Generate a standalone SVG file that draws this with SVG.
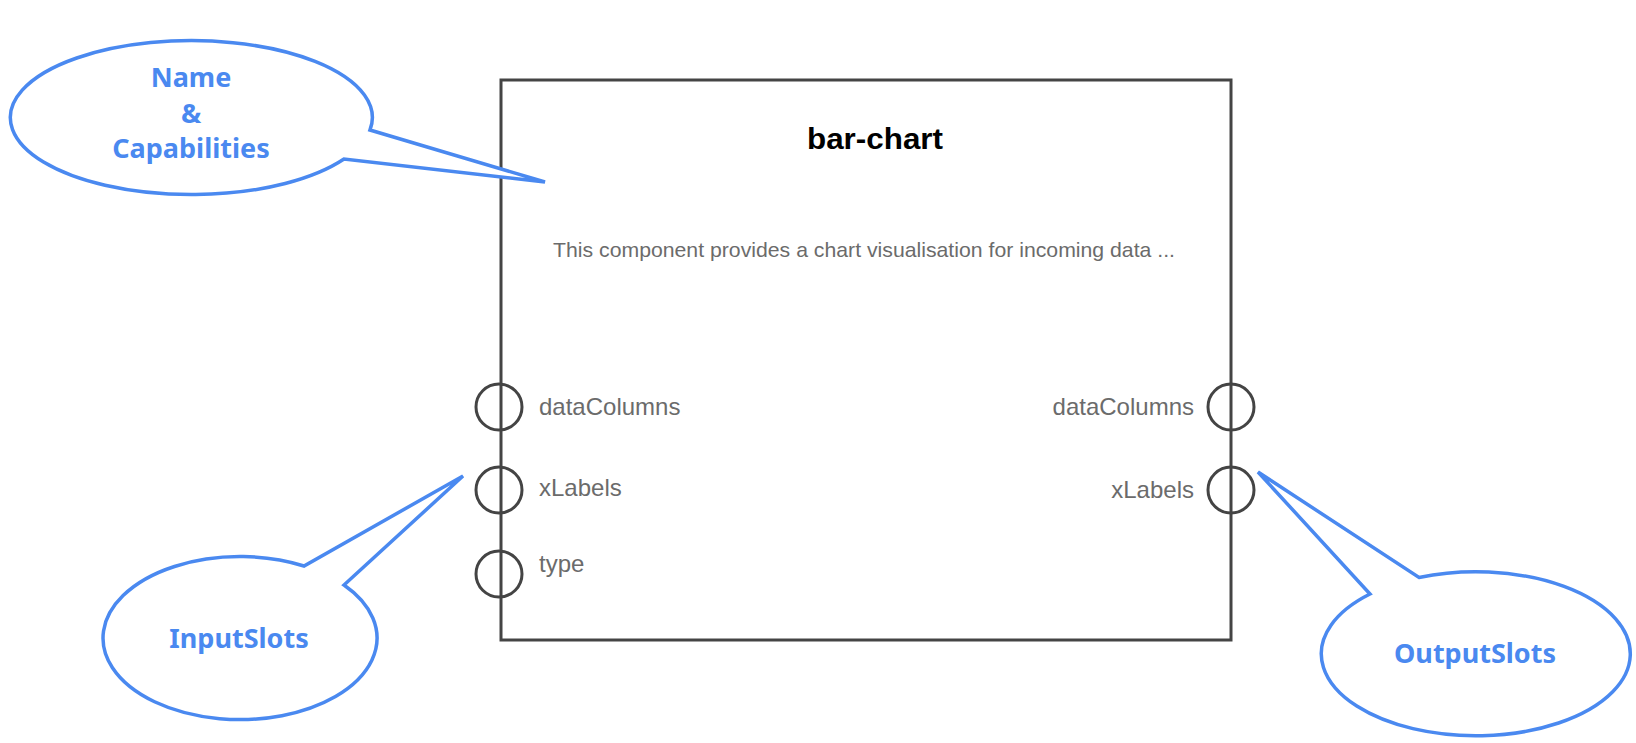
<svg xmlns="http://www.w3.org/2000/svg" width="1636" height="743" viewBox="0 0 1636 743">
<style>
.box{fill:#fff;stroke:#444;stroke-width:3}
.slot{fill:none;stroke:#444;stroke-width:3}
.lbl{font-family:"Liberation Sans",Arial,sans-serif;font-size:24px;fill:#6b6b6b}
.title{font-family:"Liberation Sans",Arial,sans-serif;font-size:30px;font-weight:bold;fill:#000}
.desc{font-family:"Liberation Sans",Arial,sans-serif;font-size:21px;fill:#6b6b6b}
.bubble{fill:#fff;stroke:#4a89f0;stroke-width:3.5;stroke-linejoin:miter}
.btxt{font-family:"Comic Sans MS","Noto Sans",sans-serif;font-size:27px;font-weight:bold;fill:#4a89f0;text-anchor:middle}
</style>
<g id="component">
<rect class="box" x="501" y="80" width="730" height="560"/>
<text class="title" x="875" y="149" text-anchor="middle" textLength="136" lengthAdjust="spacingAndGlyphs">bar-chart</text>
<text class="desc" x="553" y="257" textLength="622" lengthAdjust="spacingAndGlyphs">This component provides a chart visualisation for incoming data ...</text>
</g>
<g id="input-slots">
<circle class="slot" cx="499" cy="407" r="23"/>
<circle class="slot" cx="499" cy="490" r="23"/>
<circle class="slot" cx="499" cy="574" r="23"/>
<text class="lbl" x="539" y="415">dataColumns</text>
<text class="lbl" x="539" y="496">xLabels</text>
<text class="lbl" x="539" y="572">type</text>
</g>
<g id="output-slots">
<circle class="slot" cx="1231" cy="407" r="23"/>
<circle class="slot" cx="1231" cy="490" r="23"/>
<text class="lbl" x="1194" y="415" text-anchor="end">dataColumns</text>
<text class="lbl" x="1194" y="498" text-anchor="end">xLabels</text>
</g>
<g id="callouts">
<g id="callout-name">
<path class="bubble" d="M 370 130 A 181 77 0 1 0 344 159 L 545 182 Z"/>
<text class="btxt" x="191" y="87">Name</text>
<text class="btxt" x="191" y="123">&amp;</text>
<text class="btxt" x="191" y="158">Capabilities</text>
</g>
<g id="callout-input">
<path class="bubble" d="M 304 566 A 137 81.5 0 1 0 344 585 L 463 476 Z"/>
<text class="btxt" x="239" y="648">InputSlots</text>
</g>
<g id="callout-output">
<path class="bubble" d="M 1419 577.5 A 154.5 82 0 1 1 1370 594 L 1258 472 Z"/>
<text class="btxt" x="1475" y="663">OutputSlots</text>
</g>
</g>
</svg>
